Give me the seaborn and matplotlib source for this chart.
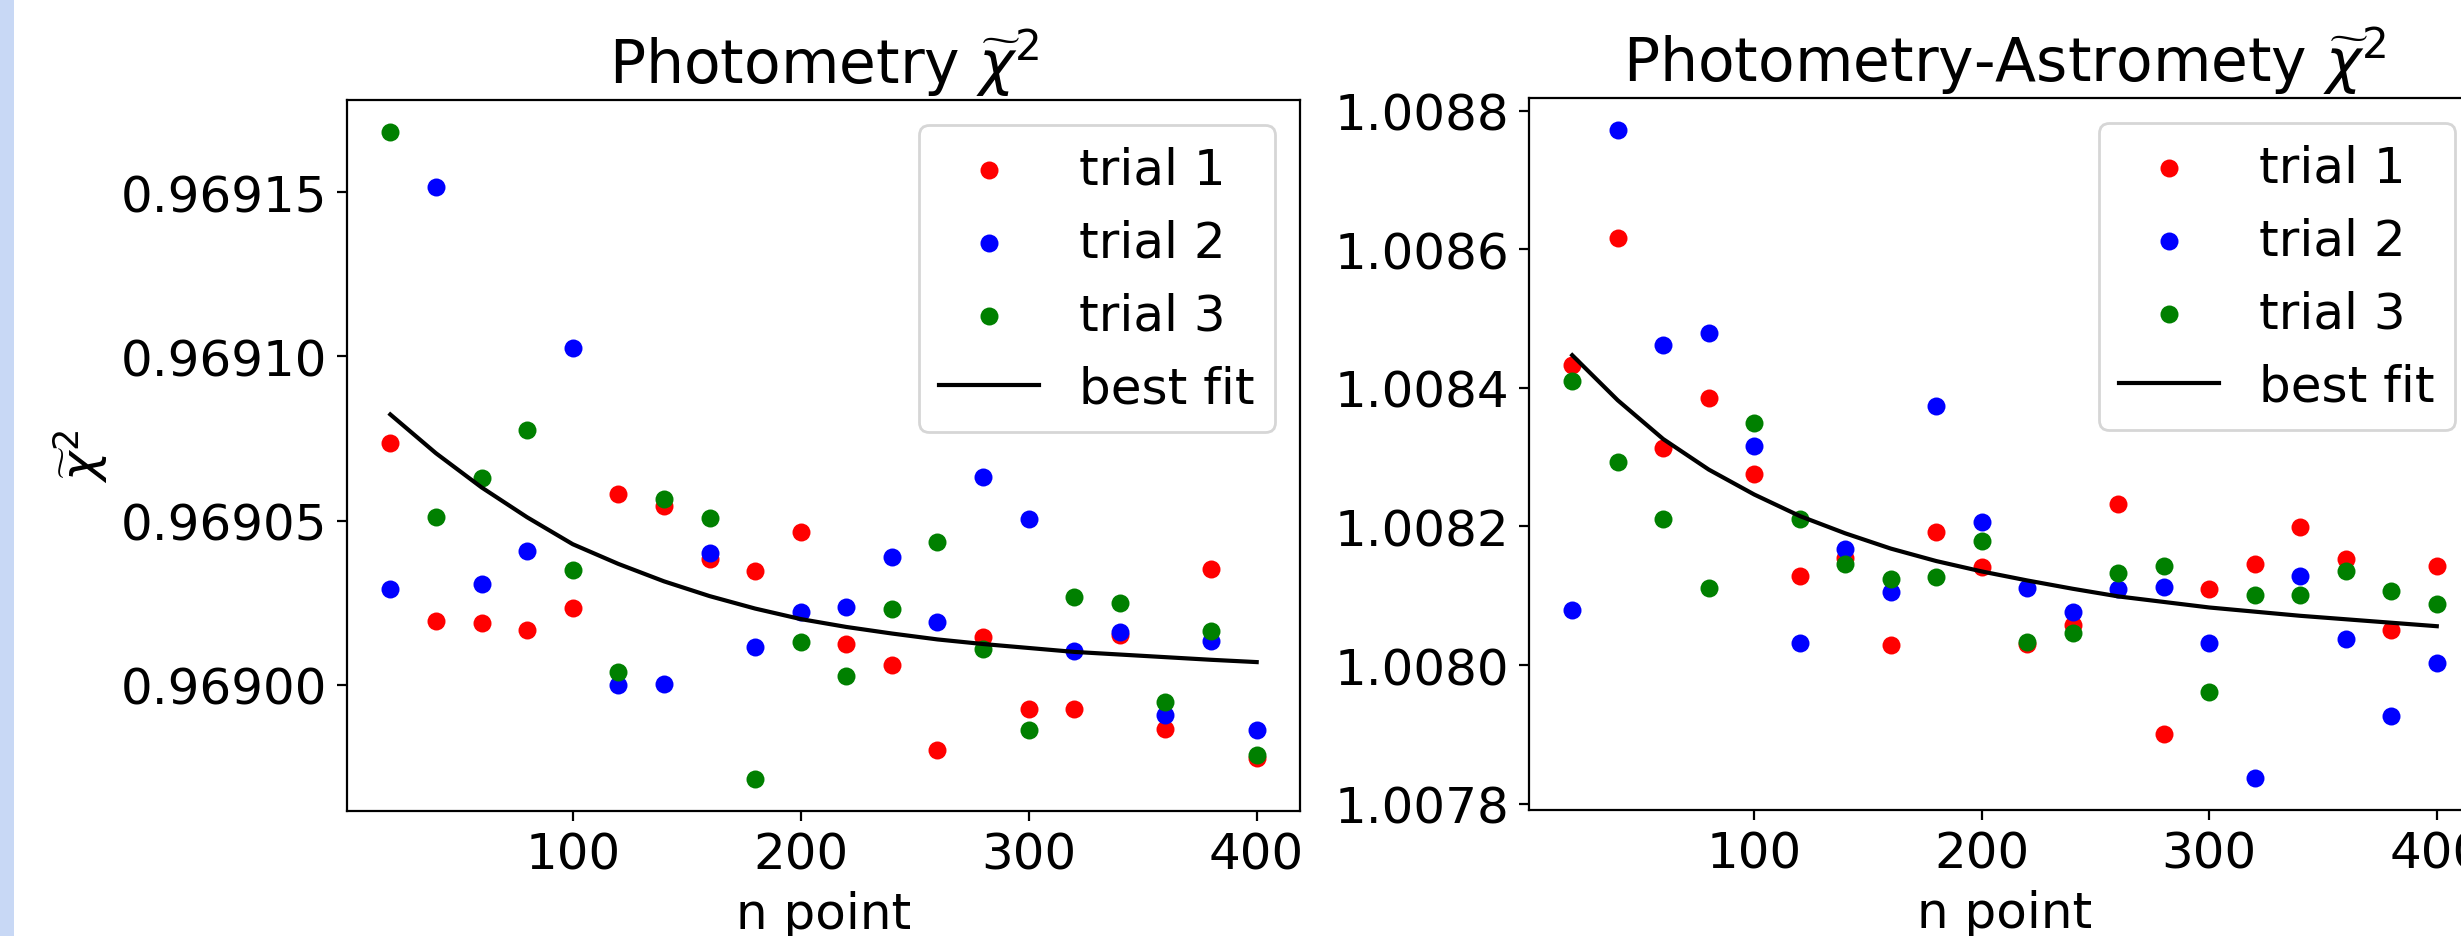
import matplotlib
matplotlib.use("Agg")
import matplotlib.pyplot as plt
import seaborn as sns
from matplotlib.patches import Rectangle

# ---------------- data ----------------
n_points = [20, 40, 60, 80, 100, 120, 140, 160, 180, 200,
            220, 240, 260, 280, 300, 320, 340, 360, 380, 400]

phot_trial1 = [0.9690735, 0.9690193, 0.9690188, 0.9690166, 0.9690235, 0.9690581, 0.9690543,
               0.9690383, 0.9690346, 0.9690465, 0.9690124, 0.9690060, 0.9689801, 0.9690146,
               0.9689925, 0.9689925, 0.9690151, 0.9689865, 0.9690352, 0.9689778]
phot_trial2 = [0.9690293, 0.9691517, 0.9690306, 0.9690406, 0.9691026, 0.9690000, 0.9690002,
               0.9690401, 0.9690115, 0.9690221, 0.9690237, 0.9690388, 0.9690190, 0.9690634,
               0.9690505, 0.9690104, 0.9690160, 0.9689907, 0.9690133, 0.9689861]
phot_trial3 = [0.9691682, 0.9690510, 0.9690629, 0.9690777, 0.9690348, 0.9690038, 0.9690565,
               0.9690507, 0.9689714, 0.9690131, 0.9690027, 0.9690231, 0.9690436, 0.9690109,
               0.9689861, 0.9690268, 0.9690248, 0.9689949, 0.9690164, 0.9689787]
phot_fit = [0.9690823, 0.9690705, 0.9690601, 0.9690510, 0.9690428, 0.9690368, 0.9690315,
            0.9690270, 0.9690232, 0.9690200, 0.9690176, 0.9690156, 0.9690138, 0.9690124,
            0.9690112, 0.9690100, 0.9690092, 0.9690084, 0.9690076, 0.9690069]

pa_trial1 = [1.0084330, 1.0086156, 1.0083126, 1.0083853, 1.0082753, 1.0081281, 1.0081540,
             1.0080286, 1.0081926, 1.0081407, 1.0080310, 1.0080576, 1.0082321, 1.0079006,
             1.0081096, 1.0081456, 1.0081988, 1.0081531, 1.0080508, 1.0081428]
pa_trial2 = [1.0080788, 1.0087714, 1.0084615, 1.0084788, 1.0083160, 1.0080312, 1.0081671,
             1.0081048, 1.0083740, 1.0082065, 1.0081116, 1.0080770, 1.0081096, 1.0081130,
             1.0080320, 1.0078375, 1.0081290, 1.0080376, 1.0079262, 1.0080023]
pa_trial3 = [1.0084095, 1.0082926, 1.0082104, 1.0081117, 1.0083489, 1.0082104, 1.0081455,
             1.0081238, 1.0081269, 1.0081787, 1.0080334, 1.0080459, 1.0081324, 1.0081428,
             1.0079608, 1.0081013, 1.0081013, 1.0081352, 1.0081075, 1.0080874]
pa_fit = [1.0084470, 1.0083820, 1.0083260, 1.0082820, 1.0082460, 1.0082150, 1.0081900,
          1.0081680, 1.0081500, 1.0081350, 1.0081220, 1.0081100, 1.0080990, 1.0080910,
          1.0080830, 1.0080770, 1.0080710, 1.0080660, 1.0080610, 1.0080560]

xticks = [100, 200, 300, 400]
phot_yticks = [0.96900, 0.96905, 0.96910, 0.96915]
phot_ylabels = ["0.96900", "0.96905", "0.96910", "0.96915"]
pa_yticks = [1.0078, 1.0080, 1.0082, 1.0084, 1.0086, 1.0088]
pa_ylabels = ["1.0078", "1.0080", "1.0082", "1.0084", "1.0086", "1.0088"]

trial_labels = ["trial 1", "trial 2", "trial 3"]
trial_colors = ["red", "blue", "green"]

# ---------------- style ----------------
FS = 18
plt.rcParams.update({
    "font.family": ["DejaVu Sans"],
    "font.size": FS,
    "axes.linewidth": 0.8,
    "mathtext.fontset": "dejavusans",
})

fig = plt.figure(figsize=(12.305, 4.685), dpi=200)
fig.patch.set_facecolor("white")
fig.patches.append(Rectangle((0, 0), 14 / 2461, 1, transform=fig.transFigure,
                             facecolor="#c8d8f5", edgecolor="none", zorder=-1))

ax1 = fig.add_axes([0.14100, 0.13340, 0.38724, 0.75880])
ax2 = fig.add_axes([0.62129, 0.13447, 0.38643, 0.75987])


def draw(ax, trials, fit, yticks, ylabels, title):
    for vals, lab, col in zip(trials, trial_labels, trial_colors):
        sns.scatterplot(x=n_points, y=vals, ax=ax, color=col, s=42, linewidth=0,
                        label=lab, zorder=2)
    sns.lineplot(x=n_points, y=fit, ax=ax, color="black", linewidth=1.5,
                 label="best fit", zorder=3)
    ax.set_xticks(xticks)
    ax.set_xticklabels([str(t) for t in xticks])
    ax.set_yticks(yticks)
    ax.set_yticklabels(ylabels)
    ax.set_xlabel("n point")
    ax.set_title(title, fontsize=FS * 1.2)
    for sp in ax.spines.values():
        sp.set_visible(True)
        sp.set_color("black")
    ax.tick_params(direction="out", length=3.5, width=0.8, colors="black")
    ax.legend(loc="upper right", fontsize=FS)


draw(ax1, [phot_trial1, phot_trial2, phot_trial3], phot_fit, phot_yticks, phot_ylabels,
     r"Photometry $\widetilde{\chi}^2$")
ax1.set_ylabel(r"$\widetilde{\chi}^2$")
draw(ax2, [pa_trial1, pa_trial2, pa_trial3], pa_fit, pa_yticks, pa_ylabels,
     r"Photometry-Astromety $\widetilde{\chi}^2$")
ax2.set_ylabel("")

fig.savefig("out.png", dpi=200)
